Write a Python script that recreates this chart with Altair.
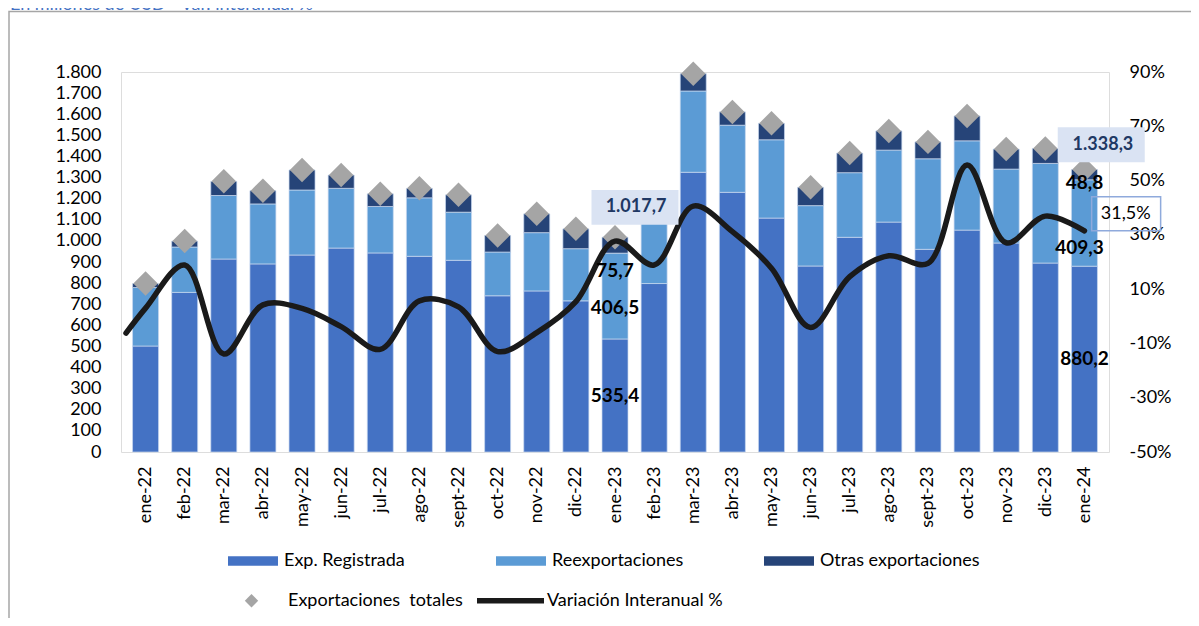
import json
import altair as alt
import pandas as pd

# ---------------- data ----------------
months = ["ene-22", "feb-22", "mar-22", "abr-22", "may-22", "jun-22", "jul-22", "ago-22",
          "sept-22", "oct-22", "nov-22", "dic-22", "ene-23", "feb-23", "mar-23", "abr-23",
          "may-23", "jun-23", "jul-23", "ago-23", "sept-23", "oct-23", "nov-23", "dic-23", "ene-24"]
exp_registrada = [502, 756, 914, 891, 933, 966, 943, 927, 908, 740, 763, 716,
                  535.4, 798, 1325, 1230, 1108, 881, 1017, 1089, 960, 1051, 990, 895, 880.2]
reexportaciones = [277, 215, 301, 284, 308, 283, 220, 277, 228, 207, 276, 247,
                   406.5, 347, 385, 318, 371, 286, 306, 341, 429, 423, 350, 472, 409.3]
otras_exportaciones = [19, 28, 67, 63, 95, 63, 60, 45, 82, 79, 89, 94,
                       75.7, 35, 82, 63, 78, 87, 93, 91, 80, 118, 95, 71, 48.8]
exportaciones_totales = [798, 999, 1282, 1238, 1336, 1312, 1223, 1249, 1218, 1026, 1128, 1057,
                         1017.7, 1180, 1792, 1611, 1557, 1254, 1416, 1521, 1469, 1592, 1435, 1438, 1338.3]
variacion_interanual = [3.0, 18.9, -13.9, 4.2, 2.9, -3.8, -12.2, 5.7, 3.5, -13.0, -6.0, 5.4,
                        27.7, 18.9, 40.6, 31.2, 17.7, -4.1, 14.6, 22.3, 19.5, 55.7, 27.1, 36.9, 31.5]
variacion_borde_izq = -6.2          # where the line enters at the plot's left edge
left_ticks = list(range(0, 1801, 100))
right_ticks = list(range(-50, 91, 20))
series_bars = ["Exp. Registrada", "Reexportaciones", "Otras exportaciones"]
series_other = ["Exportaciones\u00a0 totales", "Variación Interanual %"]
title_text = "En millones de USD - Var. interanual %"

# ---------------- styles ----------------
FONT = "Lato"
C_REG, C_REEX, C_OTRAS = "#4472C4", "#5B9BD5", "#264478"
C_DIAMOND, C_LINE = "#A5A5A5", "#1A1A1A"
C_BOX, C_BOXTEXT, C_BORDER = "#DAE3F3", "#203864", "#8FAADC"
AX_FS = 18
LEG_FS = 18


def es_num(v, dec=1):
    s = f"{v:,.{dec}f}"
    return s.replace(",", "X").replace(".", ",").replace("X", ".")


n = len(months)
bar_rows = []
for i in range(n):
    for k, arr in enumerate([exp_registrada, reexportaciones, otras_exportaciones]):
        bar_rows.append({"idx": i, "mes": months[i], "componente": series_bars[k],
                         "valor": arr[i], "orden": k})
bars_df = pd.DataFrame(bar_rows)
points_df = pd.DataFrame({"idx": list(range(n)), "total": exportaciones_totales,
                          "serie": [series_other[0]] * n})
line_df = pd.DataFrame({"idx": [-0.5] + list(range(n)),
                        "var": [variacion_borde_izq] + variacion_interanual})

X = alt.X("idx:Q", title=None,
          scale=alt.Scale(domain=[-0.5, n - 0.5], nice=False, zero=False),
          axis=alt.Axis(values=list(range(n)), labelExpr=json.dumps(months) + "[datum.value]",
                        labelAngle=-90, domain=False, ticks=False, grid=False,
                        labelPadding=14, labelFontSize=AX_FS, labelFont=FONT,
                        labelColor="#000000", labelOverlap=False, labelBound=False))
yL_scale = alt.Scale(domain=[0, 1800], nice=False, zero=True)
yL_axis = alt.Axis(orient="left", values=left_ticks,
                   labelExpr="replace(format(datum.value, ','), ',', '.')",
                   domain=False, ticks=False, grid=False, labelPadding=20,
                   labelFontSize=AX_FS, labelFont=FONT, labelColor="#000000", title=None)
yR_scale = alt.Scale(domain=[-50, 90], nice=False, zero=False)
yR_axis = alt.Axis(orient="right", values=right_ticks, labelExpr="datum.value + '%'",
                   domain=False, ticks=False, grid=False, labelPadding=20,
                   labelFontSize=AX_FS, labelFont=FONT, labelColor="#000000", title=None)

rect_path = "M-1,-0.19H1V0.19H-1Z"
diamond_path = "M0,-0.2L0.2,0L0,0.2L-0.2,0Z"
line_path = "M-1,-0.08H1V0.08H-1Z"

leg_bars = alt.Legend(orient="none", legendX=107, legendY=464, direction="horizontal",
                      columns=3, title=None, symbolType=rect_path, symbolSize=2500,
                      symbolStrokeWidth=0, labelFontSize=LEG_FS, labelFont=FONT,
                      labelColor="#000000", labelOffset=6, columnPadding=52,
                      gridAlign="all", padding=0, labelLimit=0)
leg_other = alt.Legend(orient="none", legendX=97, legendY=495, direction="horizontal",
                       columns=2, title=None, symbolSize=4489, symbolStrokeWidth=0,
                       symbolOpacity=1, labelFontSize=LEG_FS, labelFont=FONT,
                       labelColor="#000000", labelOffset=3, columnPadding=14,
                       padding=0, labelLimit=0)

one = pd.DataFrame({"k": [0]})

frame = alt.Chart(one).mark_rect(fill="transparent", stroke="#A6A6A6", strokeWidth=1.5).encode(
    x=alt.value(-112), x2=alt.value(1200), y=alt.value(-60.5), y2=alt.value(800))

bars = alt.Chart(bars_df).mark_bar(size=26, orient="vertical", stroke="#C9D8EF",
                                   strokeWidth=0.7).encode(
    x=X,
    y=alt.Y("valor:Q", stack="zero", scale=yL_scale, axis=yL_axis),
    fill=alt.Fill("componente:N", scale=alt.Scale(domain=series_bars,
                                                   range=[C_REG, C_REEX, C_OTRAS]),
                  legend=leg_bars, sort=series_bars),
    order=alt.Order("orden:Q", sort="ascending"))

points = alt.Chart(points_df).mark_point(filled=True, opacity=1, size=15000).encode(
    x=X,
    y=alt.Y("total:Q", scale=yL_scale, axis=yL_axis),
    color=alt.Color("serie:N", scale=alt.Scale(domain=series_other, range=[C_DIAMOND, C_LINE]),
                    legend=leg_other),
    shape=alt.Shape("serie:N", scale=alt.Scale(domain=series_other,
                                               range=[diamond_path, line_path]),
                    legend=leg_other))

groupL = alt.layer(frame, bars, points)

# right axis group
line = alt.Chart(line_df).mark_line(interpolate="catmull-rom", strokeWidth=5.5, color=C_LINE,
                                    strokeCap="round", strokeJoin="round").encode(
    x=X, y=alt.Y("var:Q", scale=yR_scale, axis=yR_axis))

last = n - 1
pct_df = pd.DataFrame({"idx": [last], "var": [variacion_interanual[last]],
                       "txt": [es_num(variacion_interanual[last]) + "%"]})
box31 = alt.Chart(pct_df).mark_point(shape="M-1,-0.493H1V0.493H-1Z", size=4761, filled=False,
                                     color=C_BORDER, strokeWidth=1.5, opacity=1,
                                     xOffset=41.7, yOffset=-17).encode(
    x=X, y=alt.Y("var:Q", scale=yR_scale, axis=yR_axis))
text31 = alt.Chart(pct_df).mark_text(font=FONT, fontSize=18, color="#000000",
                                     dx=41.3, dy=-17).encode(
    x=X, y=alt.Y("var:Q", scale=yR_scale, axis=yR_axis), text="txt:N")

groupR = alt.layer(line, box31, text31)

# labels group (left scale, no axis)
yT_scale = alt.Scale(domain=[0, 1800], nice=False, zero=True)


def label(i, anchor, txt, dx, dy, color="#000000", size=19):
    df = pd.DataFrame({"idx": [i], "anchor": [anchor], "txt": [txt]})
    return alt.Chart(df).mark_text(font=FONT, fontSize=size, fontWeight="bold", color=color,
                                   dx=dx, dy=dy).encode(
        x=X, y=alt.Y("anchor:Q", scale=yT_scale, axis=None), text="txt:N")


def box(i, anchor, dx, dy):
    df = pd.DataFrame({"idx": [i], "anchor": [anchor]})
    return alt.Chart(df).mark_point(shape="M-1,-0.4H1V0.4H-1Z", size=7569, filled=True,
                                    color=C_BOX, opacity=1, strokeWidth=0,
                                    xOffset=dx, yOffset=dy).encode(
        x=X, y=alt.Y("anchor:Q", scale=yT_scale, axis=None))


layers_T = []
for i, d_tot_x, d_tot_y, d_box_x in [(12, 21, -29.7, 20), (24, 18.5, -24.7, 16.8)]:
    r, e, o, t = exp_registrada[i], reexportaciones[i], otras_exportaciones[i], exportaciones_totales[i]
    layers_T.append(box(i, t, d_box_x, d_tot_y))
    layers_T.append(label(i, t, es_num(t), d_tot_x, d_tot_y, color=C_BOXTEXT, size=18))
    if i == 12:
        layers_T.append(label(i, r / 2, es_num(r), 0, 1))
        layers_T.append(label(i, r + e / 2, es_num(e), 0, 12))
        layers_T.append(label(i, r + e + o / 2, es_num(o), 0, 25.6))
    else:
        layers_T.append(label(i, r / 2, es_num(r), 0, 0))
        layers_T.append(label(i, r + e / 2, es_num(e), -5, 25.3))
        layers_T.append(label(i, r + e + o / 2, es_num(o), 0, 8.7))

title = alt.Chart(pd.DataFrame({"t": [title_text]})).mark_text(
    font=FONT, fontSize=18, color="#4472C4", align="left", baseline="alphabetic").encode(
    x=alt.value(-111), y=alt.value(-62), text="t:N")
layers_T.append(title)

groupT = alt.layer(*layers_T)

chart = alt.layer(groupL, groupR, groupT).resolve_scale(y="independent").properties(
    width=988, height=380,
    padding={"left": 113, "top": 64, "right": 82, "bottom": 166},
    autosize=alt.AutoSizeParams(type="none"),
    background="white",
).configure_view(stroke=None).configure(font=FONT)

chart.save("out.html", embed_options={"renderer": "svg", "actions": False})
